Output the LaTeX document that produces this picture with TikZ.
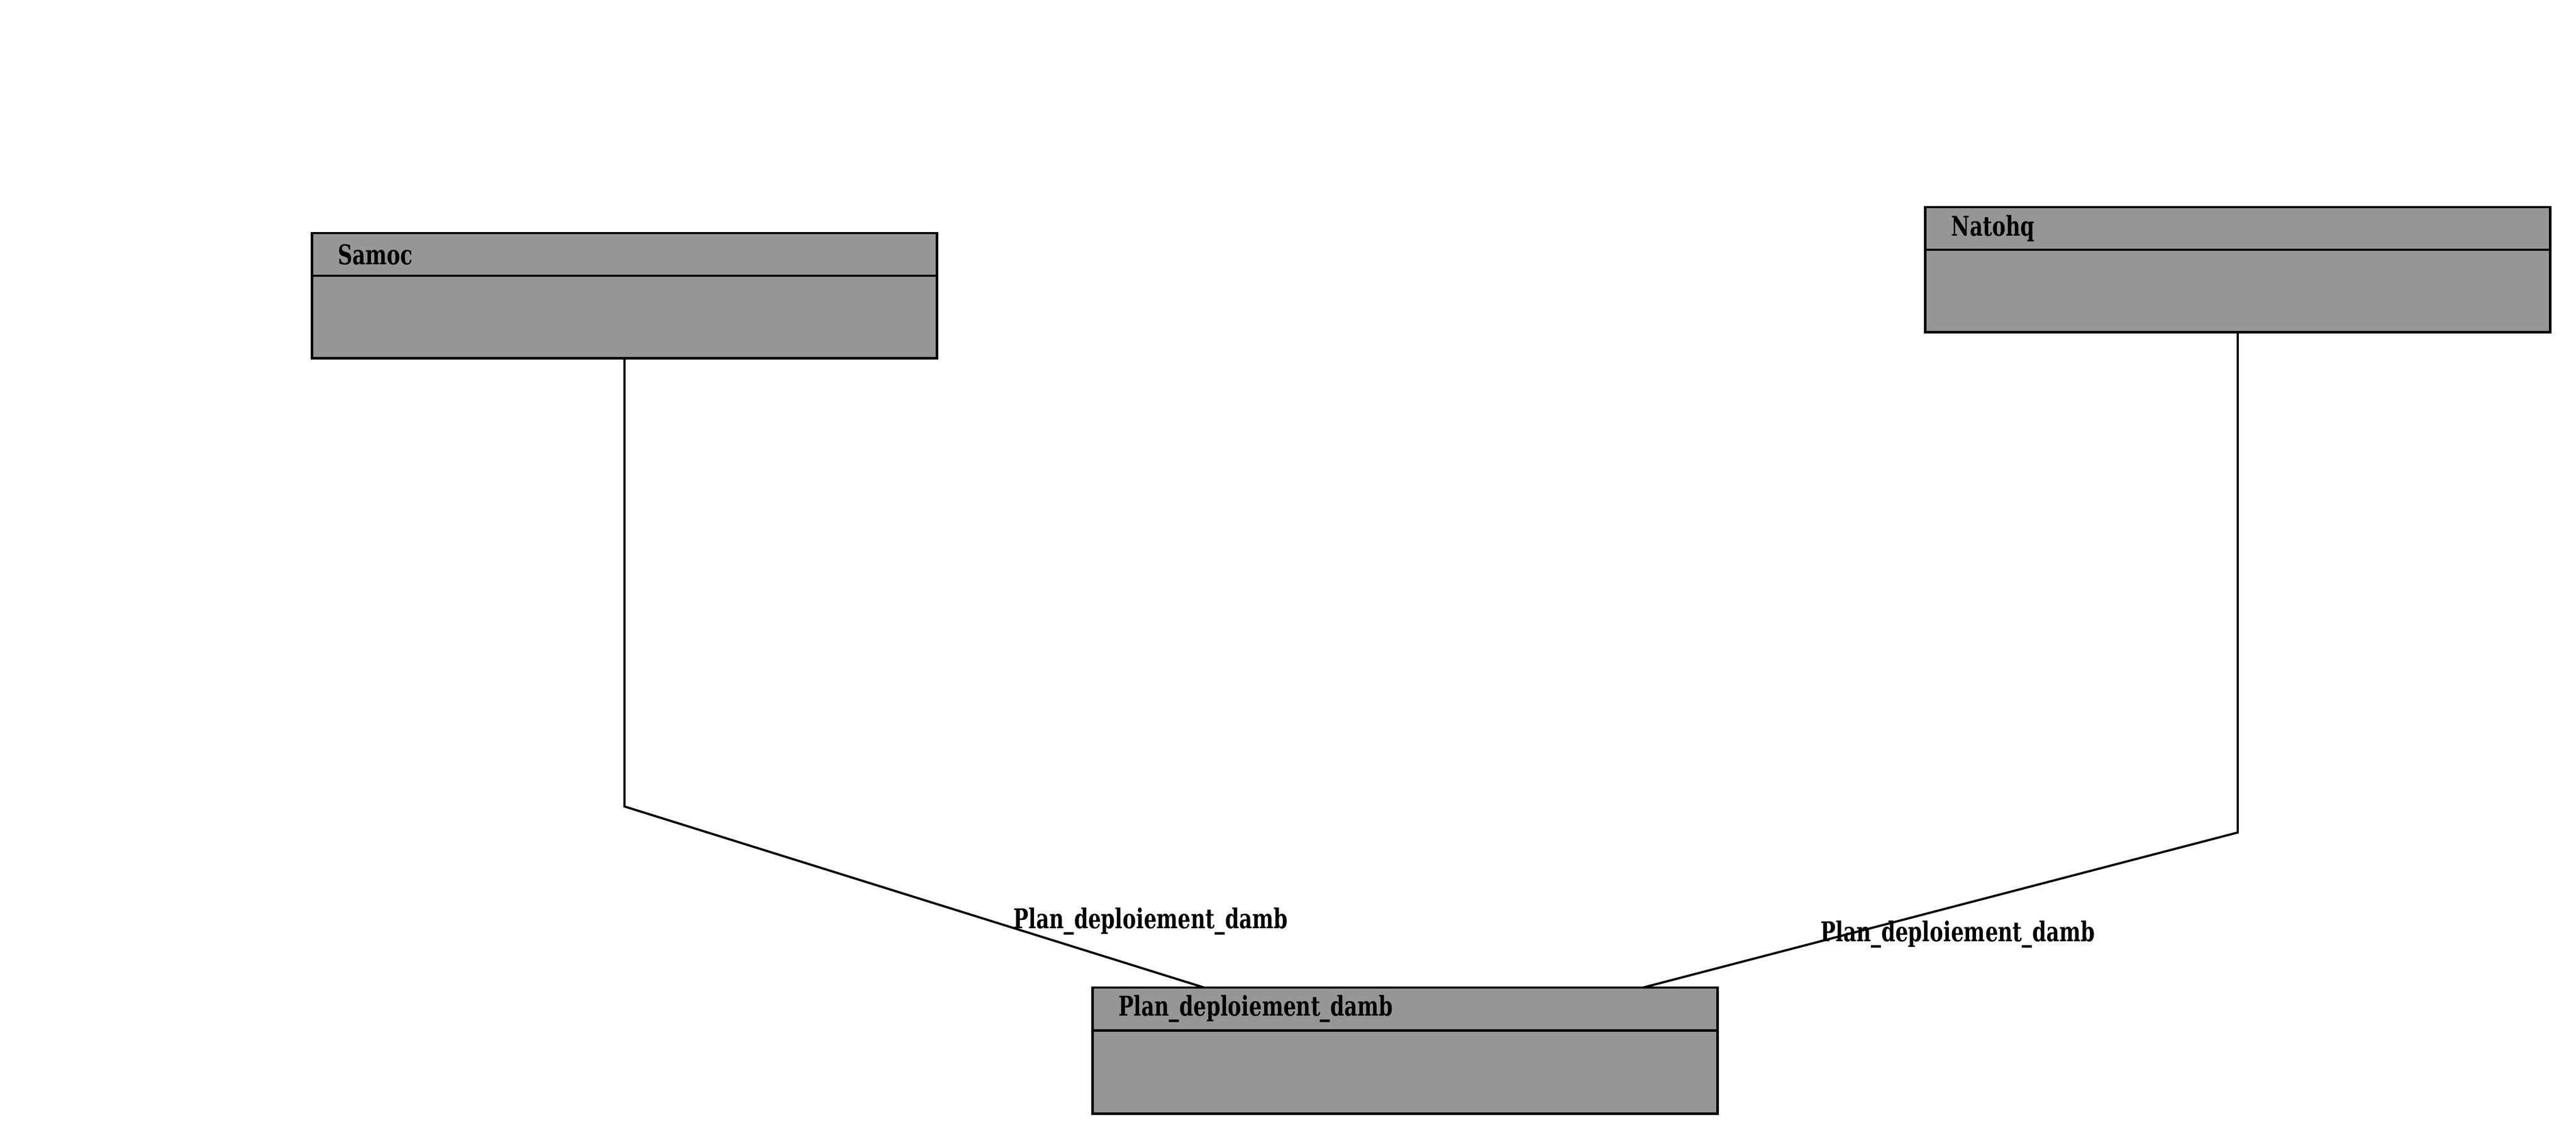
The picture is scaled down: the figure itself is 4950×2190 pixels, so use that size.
\documentclass[tikz,border=0pt]{standalone}
\usepackage{fontspec}
\setmainfont{DejaVu Serif}
\newfontfamily\classfont{DejaVu Serif}[FakeStretch=0.74]
\usepackage{xcolor}
\usetikzlibrary{positioning}

\definecolor{classgray}{RGB}{150,150,150}

\begin{document}
\begin{tikzpicture}[x=0.01cm, y=-0.01cm,
        head/.style = {minimum height=0.82cm, text width=11cm, align=left},
        body/.style = {minimum height=1.58cm}]
        \useasboundingbox (0,0) rectangle (4950,2190);

        \begin{scope}[every node/.style = {draw, line width=1.4pt, fill=classgray,
                        minimum width=12cm, inner sep=0pt, outer sep=0pt,
                        font=\classfont\fontsize{14.9}{16}\selectfont\bfseries}]
            \node[head] (samoc)  at (1200, 489)  {Samoc};
            \node[body, below=0pt of samoc] (samoc-body) {};

            \node[head] (natohq) at (4300, 439)  {Natohq};
            \node[body, below=0pt of natohq] (natohq-body) {};

            \node[head] (plan)   at (2700, 1939) {Plan\_deploiement\_damb};
            \node[body, minimum height=1.6cm, below=0pt of plan] (plan-body) {};
        \end{scope}

        \coordinate (samoc-bend)  at (1200, 1550);
        \coordinate (natohq-bend) at (4300, 1600);
        \coordinate (plan-left)   at ([xshift=2.14cm]plan.north west);
        \coordinate (plan-right)  at ([xshift=10.57cm]plan.north west);

        \begin{scope}[every node/.style={font=\classfont\fontsize{14.9}{16}\selectfont\bfseries}]
            \draw [line width=1.2pt] (samoc-body.south) -- (samoc-bend) -- (plan-left);
            \draw [line width=1.2pt] (natohq-body.south) -- (natohq-bend) -- (plan-right);

            \node (label-samoc)  at (2211, 1771) {Plan\_deploiement\_damb};
            \node (label-natohq) at (3762, 1796) {Plan\_deploiement\_damb};
        \end{scope}
    \end{tikzpicture}
\end{document}
